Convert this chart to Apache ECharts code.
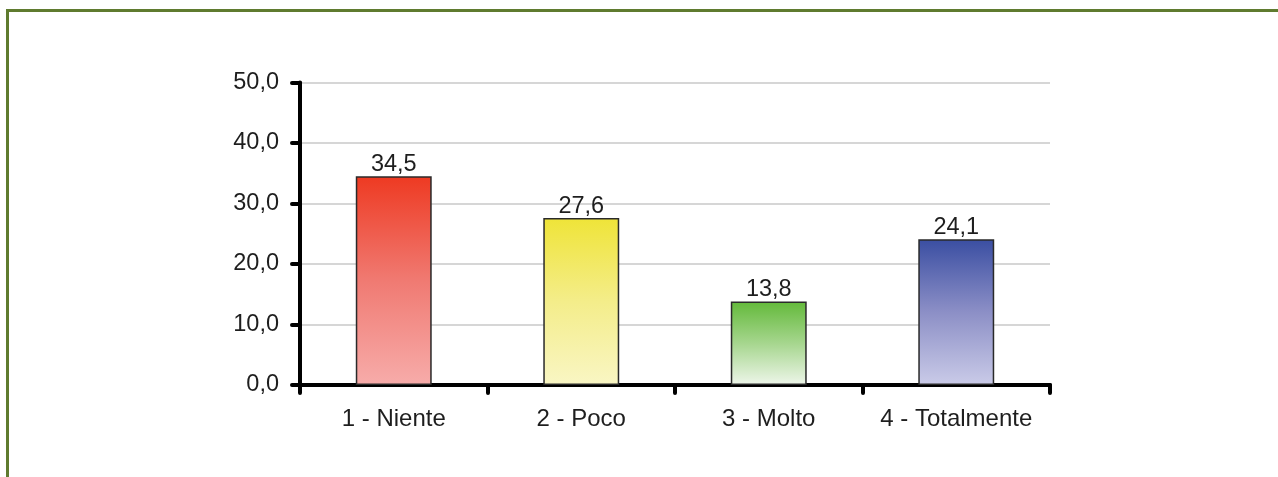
<!DOCTYPE html>
<html>
<head>
<meta charset="utf-8">
<style>
  html, body { margin: 0; padding: 0; background: #ffffff; }
  #chart { width: 1278px; height: 477px; }
</style>
<script src="https://cdn.jsdelivr.net/npm/echarts@6/dist/echarts.min.js"></script>
</head>
<body>
<div id="chart"></div>
<script>
// Risposte per livello di accordo (percentuali)
const categories = ['1 - Niente', '2 - Poco', '3 - Molto', '4 - Totalmente'];
const values = [34.5, 27.6, 13.8, 24.1];

// Colori a gradiente per ciascuna barra: [alto, centro, basso]
const barGradients = [
  ['#ee3a22', '#f07a72', '#f7acaa'],
  ['#efe438', '#f4ed8a', '#f9f6c4'],
  ['#63b93a', '#a6d68e', '#eef6ea'],
  ['#3a4ea2', '#8c8fc6', '#cacbe8']
];

const FONT = '"Liberation Sans", Arial, Helvetica, sans-serif';
const fmt = v => v.toFixed(1).replace('.', ',');

const chart = echarts.init(document.getElementById('chart'), null, { renderer: 'canvas' });

chart.setOption({
  backgroundColor: '#ffffff',
  animation: false,
  textStyle: { fontFamily: FONT },
  graphic: [
    // cornice verde in alto e a sinistra
    {
      type: 'polyline',
      silent: true,
      shape: { points: [[7.5, 477], [7.5, 10.5], [1278, 10.5]] },
      style: { stroke: '#5f7b2f', lineWidth: 3, fill: null }
    }
  ],
  grid: { left: 300, right: 228, top: 82.5, bottom: 92, containLabel: false },
  xAxis: {
    type: 'category',
    data: categories,
    boundaryGap: true,
    axisLine: { show: true, lineStyle: { color: '#000', width: 4, cap: 'round' } },
    axisTick: { show: true, interval: 0, length: 8, lineStyle: { color: '#000', width: 4, cap: 'round' } },
    axisLabel: { color: '#1e1e1e', fontSize: 24, fontFamily: FONT, margin: 22, interval: 0, hideOverlap: false },
    splitLine: { show: false }
  },
  yAxis: {
    type: 'value',
    min: 0,
    max: 50,
    interval: 10,
    axisLine: { show: true, lineStyle: { color: '#000', width: 4, cap: 'round' } },
    axisTick: { show: true, length: 8, lineStyle: { color: '#000', width: 4, cap: 'round' } },
    axisLabel: { color: '#1e1e1e', fontSize: 23.5, fontFamily: FONT, margin: 21, formatter: v => fmt(v) },
    splitLine: { show: true, lineStyle: { color: '#d6d6d6', width: 2 } }
  },
  series: [{
    type: 'bar',
    barWidth: '40.5%',
    data: values.map((v, i) => ({
      value: v,
      itemStyle: {
        color: new echarts.graphic.LinearGradient(0, 0, 0, 1, [
          { offset: 0, color: barGradients[i][0] },
          { offset: 0.5, color: barGradients[i][1] },
          { offset: 1, color: barGradients[i][2] }
        ])
      }
    })),
    itemStyle: { borderColor: '#2a2a2a', borderWidth: 1.5 },
    label: {
      show: true,
      position: 'top',
      distance: 0,
      color: '#1e1e1e',
      fontSize: 23.5,
      fontFamily: FONT,
      formatter: p => fmt(p.value)
    },
    z: 3
  }]
});
</script>
</body>
</html>
